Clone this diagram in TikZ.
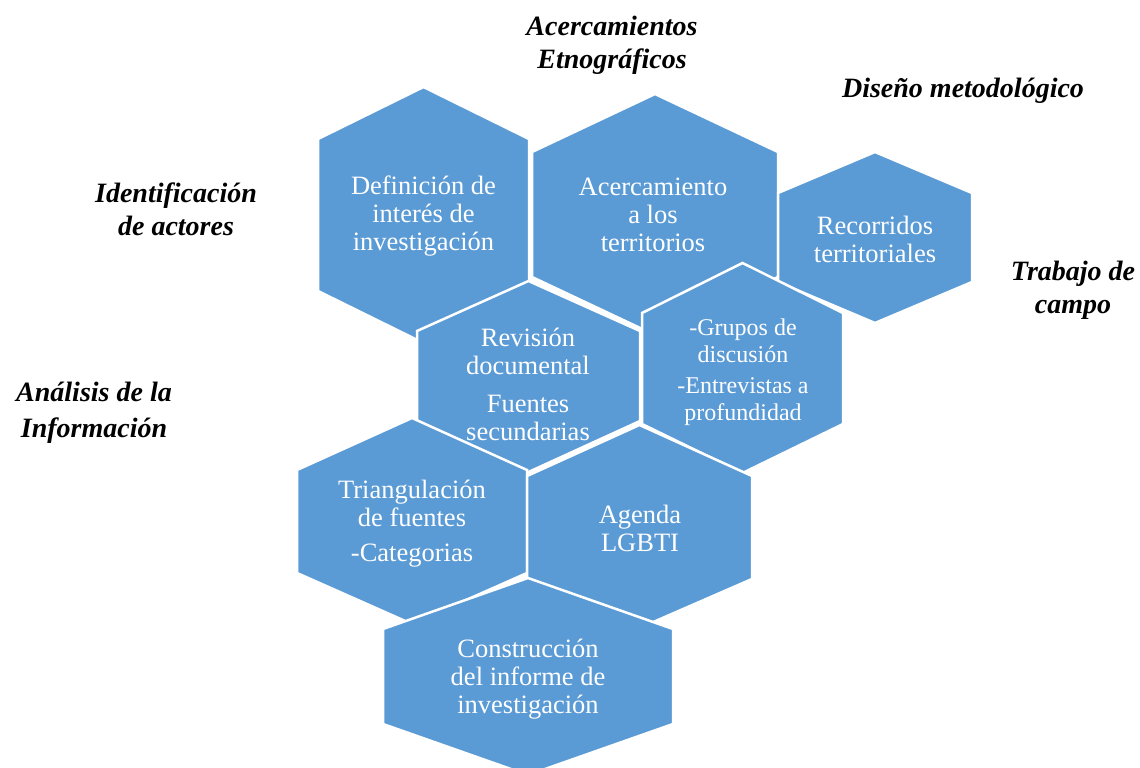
\documentclass[tikz,border=0pt]{standalone}
\usepackage{fontspec}
\setmainfont{Liberation Serif}
\definecolor{hexblue}{HTML}{5B9BD5}
\tikzset{
  hexshape/.style={fill=hexblue, draw=white, line width=2.5pt, line join=miter},
  hextext/.style={text=white, align=center, font=\fontsize{26.5}{28}\selectfont, inner sep=0pt},
  hexsmall/.style={text=white, align=center, font=\fontsize{24}{26.5}\selectfont, inner sep=0pt},
  outlabel/.style={text=black, align=center, font=\fontsize{28}{33}\selectfont\bfseries\itshape, inner sep=0pt}
}
% center x, top y, half width, upper side y, lower side y, bottom y
\newcommand{\hexdraw}[6]{%
  \fill[hexshape] (#1,#2) -- ({#1+#3},#4) -- ({#1+#3},#5) -- (#1,#6) -- ({#1-#3},#5) -- ({#1-#3},#4) -- cycle;%
}
\begin{document}
\begin{tikzpicture}[x=1pt,y=-1pt]
\useasboundingbox (0,0) rectangle (1140,768);
\begin{scope}
\clip (0,0) rectangle (1140,768);
\hexdraw{423.5}{87}{105.5}{139}{291}{343}
\hexdraw{655}{94}{123}{152}{277}{335}
\hexdraw{875}{152}{97}{193}{282}{323}
\hexdraw{528.5}{281}{111.5}{331}{421}{472}
\hexdraw{742.5}{263}{100.5}{313}{424}{473}
\hexdraw{412}{418}{115}{470}{573}{624}
\hexdraw{639.5}{425}{112.5}{476}{579}{628}
\hexdraw{528}{578}{145}{629}{724}{775}
\end{scope}

\node[hextext] (def) at (423.5,216.5) {Definición de\\interés de\\investigación};
\node[hextext] (acer) at (653,215) {Acercamiento\\a los\\territorios};
\node[hextext] (rec) at (875,239) {Recorridos\\territoriales};
\node[hextext] (rev) at (528,384) {Revisión\\documental\\[10pt]Fuentes\\secundarias};
\node[hexsmall] (gru) at (743,372) {-Grupos de\\discusión\\[5pt]-Entrevistas a\\profundidad};
\node[hextext] (tri) at (412,524) {Triangulación\\de fuentes\\[7pt]-Categorias};
\node[hextext] (age) at (640,528.5) {Agenda\\LGBTI};
\node[hextext] (con) at (528,679) {Construcción\\del informe de\\investigación};

\node[outlabel] (l1) at (612,45) {Acercamientos\\Etnográficos};
\node[outlabel] (l2) at (963,91) {Diseño metodológico};
\node[outlabel] (l3) at (176,209) {Identificación\\de actores};
\node[outlabel] (l4) at (1073,290) {Trabajo de\\campo};
\node[outlabel] (l5) at (94,413) {Análisis de la\\[3pt]Información};
\end{tikzpicture}
\end{document}
